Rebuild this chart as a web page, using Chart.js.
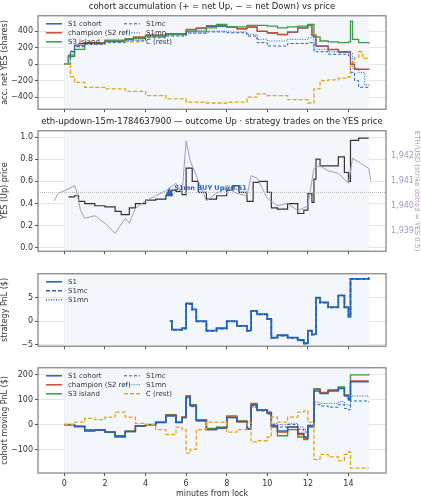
<!DOCTYPE html>
<html><head><meta charset="utf-8">
<script src="https://cdn.jsdelivr.net/npm/chart.js@4"></script>
<style>
body{margin:0;background:#fff;font-family:"DejaVu Sans",sans-serif;}
.p{position:absolute;left:0;width:421px;}
.t{position:absolute;left:38px;width:348px;text-align:center;font-size:8.5px;color:#222;white-space:nowrap;z-index:2;}
</style></head><body>
<div class="t" style="top:1px">cohort accumulation (+ = net Up, − = net Down) vs price</div>
<div class="t" style="top:116px">eth-updown-15m-1784637900 — outcome Up · strategy trades on the YES price</div>
<div class="p" style="top:9px;height:107px"><canvas id="c1"></canvas></div>
<div class="p" style="top:124px;height:134px"><canvas id="c2"></canvas></div>
<div class="p" style="top:267px;height:86px"><canvas id="c3"></canvas></div>
<div class="p" style="top:361px;height:139px"><canvas id="c4"></canvas></div>
<script>
// ---- data: [minutes, value] ----
const accS1=[[0,0],[0.2,100],[0.3,150],[0.5,220],[0.7,250],[1,255],[2,275],[3,300],[3.4,320],[4,345],[5,360],[6,400],[6.5,430],[7,455],[8,445],[8.5,425],[9,445],[9.5,395],[10,375],[10.5,355],[11,385],[11.5,435],[12,465],[12.2,340],[12.4,215],[13,175],[13.5,145],[14,145],[14.1,-5],[14.3,-65],[15,-70]];
const accChamp=[[0,0],[0.2,110],[0.5,230],[1,260],[2,280],[3,300],[3.4,330],[4,350],[5,370],[6,420],[6.5,440],[7,465],[8,450],[8.5,430],[9,450],[9.5,400],[10,380],[10.5,360],[11,390],[11.5,440],[12,470],[12.2,350],[12.4,220],[13,180],[13.5,150],[14,150],[14.1,0],[14.3,-60],[15,-70]];
const accS3=[[0,0],[0.2,90],[0.5,180],[1,250],[2,290],[3,310],[4,340],[5,360],[6,400],[7,440],[7.5,480],[8,450],[9,470],[10,460],[10.5,440],[11,450],[11.5,460],[12,480],[12.3,330],[12.6,280],[13,270],[13.5,260],[14,270],[14.1,520],[14.2,300],[14.5,260],[15,250]];
const accS1mc=[[0,0],[0.3,150],[0.5,210],[1,240],[2,260],[3,280],[4,320],[5,340],[6,375],[7,390],[8,380],[9,340],[9.5,260],[10,220],[11,250],[12,260],[12.3,150],[13,120],[14,100],[14.1,-100],[14.3,-200],[14.5,-280],[15,-290]];
const accS1mn=[[0,0],[0.3,160],[0.5,220],[1,250],[2,270],[3,290],[4,330],[5,350],[6,380],[7,400],[8,390],[9,360],[9.5,300],[10,280],[11,300],[12,320],[12.3,180],[13,150],[14,130],[14.2,-50],[14.5,-100],[14.8,-250],[15,-260]];
const accC=[[0,0],[0.3,-150],[0.5,-220],[1,-280],[2,-300],[3,-330],[4,-380],[5,-420],[6,-460],[7,-470],[8,-460],[9,-400],[9.5,-360],[10,-380],[11,-430],[12,-470],[12.3,-300],[12.6,-200],[13,-190],[13.5,-170],[14,-150],[14.1,20],[14.3,80],[14.5,150],[14.7,70],[15,70]];
const ethUsd=[[-0.5,1940.2],[-0.3,1940.5],[0,1940.6],[0.5,1940.8],[0.6,1940.6],[0.8,1939.8],[1,1939.5],[1.5,1939.6],[2,1939.3],[2.5,1938.9],[3,1939.5],[3.2,1939.3],[3.5,1939.9],[4,1940.2],[4.5,1940.4],[5,1940.6],[5.5,1940.9],[5.8,1940.5],[6,1942.6],[6.2,1941.8],[6.5,1941.2],[7,1940.2],[7.5,1940.5],[8,1940.7],[8.5,1940.5],[9,1940.4],[9.2,1941.2],[9.5,1941.1],[10,1940.3],[10.5,1940],[11,1940.1],[11.5,1939.8],[12,1940],[12.3,1941.5],[12.6,1941.6],[13,1941.4],[13.5,1941.3],[14,1940.9],[14.2,1941.9],[14.6,1941.7],[15,1941.5],[15.1,1941.0]];
const yesPrice=[[0.2,0.46],[0.5,0.47],[0.7,0.42],[1,0.4],[1.5,0.38],[2,0.37],[2.5,0.33],[2.8,0.3],[3.2,0.36],[3.5,0.4],[4,0.43],[4.5,0.44],[5,0.47],[5.3,0.52],[5.5,0.51],[5.8,0.48],[6,0.72],[6.3,0.6],[6.6,0.5],[7,0.44],[7.5,0.47],[8,0.52],[8.3,0.56],[8.6,0.5],[9,0.42],[9.3,0.59],[9.6,0.6],[10,0.5],[10.2,0.36],[10.5,0.35],[11,0.4],[11.5,0.31],[11.8,0.34],[12,0.49],[12.2,0.41],[12.3,0.62],[12.4,0.8],[12.6,0.74],[13,0.74],[13.5,0.82],[13.8,0.68],[14,0.6],[14.1,0.97],[14.5,0.99],[15,0.99]];
const trade=[[5.17,0.5]];
const tradeLabel="S1mn BUY Up@0.51";
const pnlS1=[[5.2,0],[5.3,-1.8],[5.8,-1.5],[6,3.8],[6.3,2.5],[6.5,0],[7,-2],[7.5,-1.5],[8,0],[8.5,-1],[9,-2],[9.2,2.2],[9.5,1.5],[10,0.5],[10.2,-3.5],[10.5,-3],[11,-3.5],[11.5,-4],[11.8,-4.7],[12,-2],[12.2,-2.8],[12.4,5],[12.6,4],[13,3],[13.5,5.5],[13.8,3],[14,1],[14.1,9],[14.5,9],[15,9.3]];
const pnlS1mc=[[5.2,0],[5.3,-1.9],[5.8,-1.6],[6,3.6],[6.3,2.4],[6.5,-0.1],[7,-2.1],[7.5,-1.6],[8,-0.1],[8.5,-1.1],[9,-2.1],[9.2,2.1],[9.5,1.4],[10,0.4],[10.2,-3.6],[10.5,-3.1],[11,-3.6],[11.5,-4.1],[11.8,-4.8],[12,-2.1],[12.2,-2.9],[12.4,4.9],[12.6,3.9],[13,2.9],[13.5,5.4],[13.8,2.9],[14,0.9],[14.1,8.9],[14.5,8.9],[15,9.2]];
const pnlS1mn=pnlS1mc;
const mpS1=[[0,0],[0.5,-8],[1,-25],[1.5,-22],[2,-30],[2.5,-48],[3,-28],[3.5,-5],[4,0],[4.5,8],[5,35],[5.5,8],[5.8,28],[6,110],[6.2,75],[6.5,15],[7,-20],[7.5,-15],[8,28],[8.5,12],[9,-18],[9.2,78],[9.5,58],[10,45],[10.2,-5],[10.5,-25],[11,-10],[11.5,-35],[11.8,-50],[12,-5],[12.3,135],[12.6,125],[13,135],[13.5,145],[13.8,115],[14,100],[14.1,172],[15,172]];
const mpChamp=[[0,0],[0.5,-8],[1,-25],[1.5,-22],[2,-30],[2.5,-50],[3,-28],[3.5,-5],[4,0],[4.5,10],[5,37],[5.5,10],[5.8,30],[6,115],[6.2,78],[6.5,18],[7,-20],[7.5,-12],[8,30],[8.5,12],[9,-18],[9.2,80],[9.5,60],[10,48],[10.2,-5],[10.5,-30],[11,-10],[11.5,-40],[11.8,-55],[12,-5],[12.3,140],[12.6,128],[13,138],[13.5,148],[13.8,118],[14,105],[14.1,175],[15,175]];
const mpS3=[[0,0],[0.5,-5],[1,-20],[1.5,-20],[2,-30],[2.5,-45],[3,-25],[3.5,-5],[4,0],[4.5,10],[5,40],[5.5,10],[5.8,30],[6,115],[6.2,80],[6.5,20],[7,-15],[7.5,-10],[8,35],[8.5,15],[9,-15],[9.2,85],[9.5,60],[10,50],[10.2,-10],[10.5,-45],[11,-20],[11.5,-50],[11.8,-60],[12,-10],[12.3,145],[12.6,130],[13,140],[13.5,152],[13.8,120],[14,100],[14.1,200],[15,205]];
const mpS1mc=[[0,0],[0.5,-8],[1,-25],[1.5,-22],[2,-30],[2.5,-48],[3,-28],[3.5,-5],[4,0],[4.5,8],[5,35],[5.5,8],[5.8,28],[6,105],[6.2,72],[6.5,15],[7,-20],[7.5,-15],[8,28],[8.5,12],[9,-15],[9.2,70],[9.5,55],[10,42],[10.2,0],[10.5,-10],[11,0],[11.5,-20],[11.8,-30],[12,-5],[12.3,80],[12.6,75],[13,70],[13.5,80],[13.8,65],[14,60],[14.1,95],[15,90]];
const mpS1mn=[[0,0],[0.5,-8],[1,-25],[1.5,-22],[2,-30],[2.5,-48],[3,-28],[3.5,-5],[4,0],[4.5,8],[5,35],[5.5,8],[5.8,28],[6,108],[6.2,74],[6.5,15],[7,-20],[7.5,-15],[8,28],[8.5,12],[9,-15],[9.2,72],[9.5,57],[10,44],[10.2,5],[10.5,0],[11,5],[11.5,-10],[11.8,-20],[12,0],[12.3,90],[12.6,85],[13,85],[13.5,92],[13.8,80],[14,78],[14.1,115],[15,110]];
const mpC=[[0,0],[0.5,10],[1,25],[1.5,20],[2,30],[2.5,50],[3,30],[3.5,5],[4,0],[4.5,-20],[5,-40],[5.5,-10],[5.8,-20],[6,-115],[6.2,-100],[6.5,-20],[7,10],[7.5,10],[8,-30],[8.5,-20],[9,10],[9.2,-70],[9.5,-65],[10,-50],[10.2,30],[10.5,10],[11,30],[11.5,50],[11.8,55],[12,10],[12.3,-140],[12.6,-120],[13,-130],[13.5,-145],[13.8,-120],[14,-110],[14.1,-175],[15,-175]];
const xTicks=[0,2,4,6,8,10,12,14];

const BLUE='#2563b8',RED='#c0532f',GREEN='#3c9a44',ORANGE='#e3a51e',PURPLE='#a996c9',BLK='#333';
const F={family:'DejaVu Sans',size:8};
const pts=a=>a.map(p=>({x:p[0],y:p[1]}));
function ds(d,color,dash,w,extra){return Object.assign({data:pts(d),borderColor:color,backgroundColor:color,borderWidth:w||1.3,borderDash:dash||[],pointRadius:0,stepped:true,fill:false},extra||{});}
const frame={id:'frame',beforeDatasetsDraw(c){const a=c.chartArea,x=c.scales.x,g=c.ctx;g.save();g.fillStyle='#f3f6fb';g.fillRect(x.getPixelForValue(0),a.top,x.getPixelForValue(15)-x.getPixelForValue(0),a.bottom-a.top);g.restore();},
 afterDraw(c){const a=c.chartArea,g=c.ctx;g.save();g.strokeStyle='#666';g.lineWidth=1;g.strokeRect(a.left,a.top,a.right-a.left,a.bottom-a.top);
 const L=c.options.plugins.myLegend;if(L&&L.items){g.font='7px DejaVu Sans';g.textBaseline='middle';
 L.items.forEach((e,i)=>{const col=Math.floor(i/L.rows),row=i%L.rows;const x0=a.left+8+col*L.colW,y0=a.top+8+row*L.rowH;g.strokeStyle=e.c;g.lineWidth=e.w||1.5;g.setLineDash(e.d||[]);g.beginPath();g.moveTo(x0,y0);g.lineTo(x0+16,y0);g.stroke();g.setLineDash([]);g.fillStyle='#333';g.fillText(e.t,x0+22,y0);});}
 g.restore();}};
function xScale(bottom){return {type:'linear',min:-1.3,max:15.85,afterBuildTicks:s=>{s.ticks=xTicks.map(v=>({value:v}));},
 ticks:{display:bottom,font:F,color:'#333',maxRotation:0},grid:{color:'#e6e6e6',tickColor:'#555',tickLength:3},border:{display:false},
 title:{display:bottom,text:'minutes from lock',font:F,color:'#333',padding:1},afterFit:s=>{s.height=bottom?27:6;}};}
function yScale(min,max,tk,title,fmt){return {type:'linear',min,max,afterBuildTicks:s=>{s.ticks=tk.map(v=>({value:v}));},
 ticks:{font:F,color:'#333',callback:fmt||(v=>String(v).replace('-','−')),padding:2},grid:{color:'#e6e6e6',tickColor:'#555',tickLength:3},border:{display:false},
 title:{display:true,text:title,font:F,color:'#333',padding:0},afterFit:s=>{s.width=38;}};}
function mk(id,datasets,scales,legend,extraPlugins,rightPad){
 return new Chart(document.getElementById(id),{type:'line',data:{datasets},options:{responsive:true,maintainAspectRatio:false,animation:false,
 layout:{padding:{top:4,right:rightPad,left:0,bottom:0}},scales,plugins:{legend:{display:false},tooltip:{enabled:false},myLegend:legend}},plugins:[frame].concat(extraPlugins||[])});}

mk('c1',[ds(accC,ORANGE,[4,2]),ds(accS1mn,BLUE,[1,1.5],1),ds(accS1mc,BLUE,[3,2],1),ds(accS3,GREEN),ds(accChamp,RED),ds(accS1,BLUE,[],1)],
 {x:xScale(false),y:yScale(-545,585,[-400,-200,0,200,400],'acc. net YES (shares)')},
 {rows:3,colW:78,rowH:9,items:[{t:'S1 cohort',c:BLUE},{t:'champion (S2 ref)',c:RED},{t:'S3 island',c:GREEN},{t:'S1mc',c:BLUE,d:[3,2],w:1},{t:'S1mn',c:BLUE,d:[1,1.5],w:1},{t:'C (rest)',c:ORANGE,d:[4,2]}]},[],35);

const tradePlugin={id:'tp',afterDatasetsDraw(c){const g=c.ctx,x=c.scales.x,y=c.scales.y;g.save();
 g.strokeStyle='#bbb';g.setLineDash([1,1]);g.lineWidth=1;g.beginPath();g.moveTo(c.chartArea.left,y.getPixelForValue(0.5));g.lineTo(c.chartArea.right,y.getPixelForValue(0.5));g.stroke();g.setLineDash([]);
 trade.forEach(p=>{const px=x.getPixelForValue(p[0]),py=y.getPixelForValue(p[1]);g.fillStyle=BLUE;g.beginPath();g.moveTo(px,py-5);g.lineTo(px-4,py+3);g.lineTo(px+4,py+3);g.closePath();g.fill();
 g.font='bold 6.5px DejaVu Sans';g.textBaseline='middle';g.fillText(tradeLabel,px+5,py-4);});g.restore();}};
const y2=yScale(-0.03,1.056,[0,0.2,0.4,0.6,0.8,1.0],'YES (Up) price',v=>v.toFixed(1));
mk('c2',[ds(ethUsd,PURPLE,[],1,{yAxisID:'y1',stepped:false}),ds(yesPrice,BLK,[],1.2)],
 {x:xScale(false),y:y2,y1:{type:'linear',position:'right',min:1938.18,max:1943.0,afterBuildTicks:s=>{s.ticks=[1939,1940,1941,1942].map(v=>({value:v}));},
  ticks:{font:F,color:PURPLE,padding:2},grid:{display:false,tickColor:'#555',tickLength:3},border:{display:false},
  title:{display:true,text:'ETH/USD (strike dotted = YES 0.5)',font:{family:'DejaVu Sans',size:7},color:PURPLE,padding:0},afterFit:s=>{s.width=35;}}},
 null,[tradePlugin],0);

mk('c3',[ds(pnlS1mn,BLUE,[1,1.5],1.6),ds(pnlS1mc,BLUE,[4,2],1.6),ds(pnlS1,BLUE,[],1.6)],
 {x:xScale(false),y:yScale(-5.35,10.06,[-5,0,5],'strategy PnL ($)')},
 {rows:3,colW:78,rowH:9,items:[{t:'S1',c:BLUE,w:1.6},{t:'S1mc',c:BLUE,d:[4,2],w:1.6},{t:'S1mn',c:BLUE,d:[1,1.5],w:1.6}]},[],35);

mk('c4',[ds(mpC,ORANGE,[4,2]),ds(mpS1mn,BLUE,[1,1.5],1),ds(mpS1mc,BLUE,[3,2],1),ds(mpS1,BLUE,[],1.3),ds(mpChamp,RED,[],1.6),ds(mpS3,GREEN)],
 {x:xScale(true),y:yScale(-194.9,228.6,[-100,0,100,200],'cohort moving PnL ($)')},
 {rows:3,colW:78,rowH:9,items:[{t:'S1 cohort',c:BLUE},{t:'champion (S2 ref)',c:RED},{t:'S3 island',c:GREEN},{t:'S1mc',c:BLUE,d:[3,2],w:1},{t:'S1mn',c:BLUE,d:[1,1.5],w:1},{t:'C (rest)',c:ORANGE,d:[4,2]}]},[],35);
</script></body></html>
